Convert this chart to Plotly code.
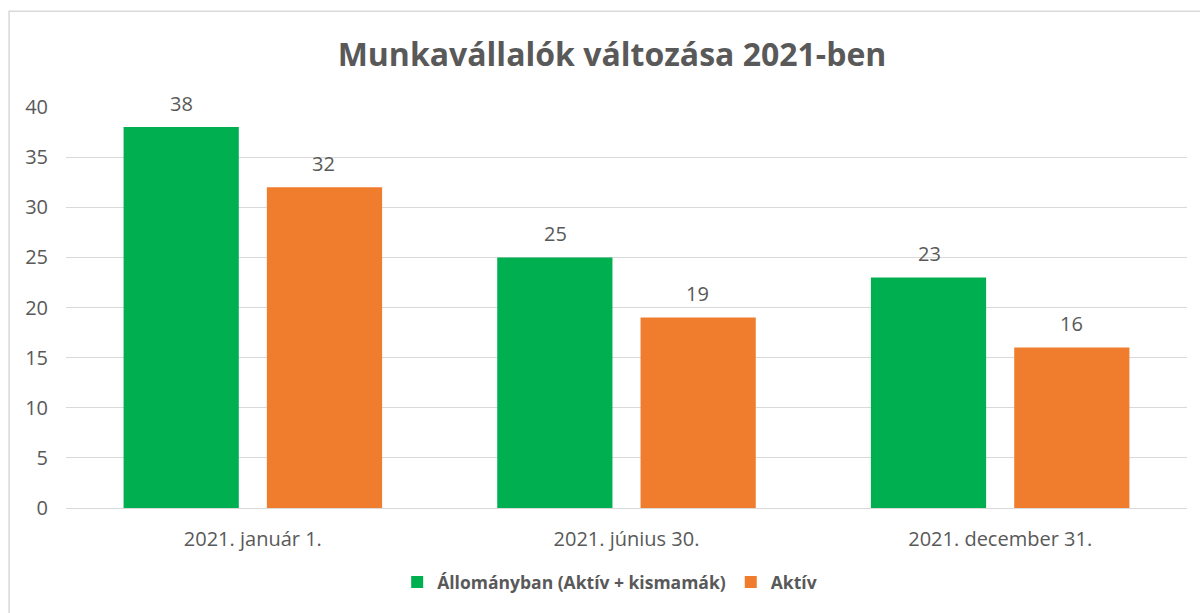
import plotly.graph_objects as go

categories = ["2021. január 1.", "2021. június 30.", "2021. december 31."]
series_names = ["Állományban (Aktív + kismamák)", "Aktív"]
allomanyban = [38, 25, 23]
aktiv = [32, 19, 16]
y_ticks = [0, 5, 10, 15, 20, 25, 30, 35, 40]

GREEN = "#00B050"
ORANGE = "#F07D2E"
GREY = "#595959"
FONT = "Open Sans"

fig = go.Figure()
fig.add_trace(go.Bar(x=categories, y=allomanyban, name=series_names[0],
                     marker=dict(color=GREEN, line=dict(width=0))))
fig.add_trace(go.Bar(x=categories, y=aktiv, name=series_names[1],
                     marker=dict(color=ORANGE, line=dict(width=0))))

ann = []
for vals, shift in ((allomanyban, -71), (aktiv, 71)):
    for c, v in zip(categories, vals):
        ann.append(dict(x=c, y=v, text=str(v), showarrow=False, xshift=shift,
                        yshift=24, yanchor="middle",
                        font=dict(family=FONT, size=20, color=GREY)))

fig.update_layout(
    width=1200, height=613,
    paper_bgcolor="white", plot_bgcolor="white",
    margin=dict(l=66, r=13, t=107, b=105),
    barmode="group", bargap=0.233, bargroupgap=0.196,
    title=dict(text="<b>Munkavállalók változása 2021-ben</b>", x=0.51, xanchor="center",
               y=1 - 55 / 613, yanchor="middle", yref="container",
               font=dict(family=FONT, size=32, color=GREY)),
    font=dict(family=FONT, size=20, color=GREY),
    legend=dict(orientation="h", x=0.485, xanchor="center", y=-0.185, yanchor="middle",
                font=dict(family=FONT, size=17.5, color=GREY, weight="bold"),
                itemwidth=30, traceorder="normal"),
    annotations=ann,
    shapes=[dict(type="rect", xref="paper", yref="paper",
                 x0=-0.0508, x1=1.05, y0=-0.5, y1=1.239,
                 line=dict(color="#D9D9D9", width=1.5), layer="below")],
    xaxis=dict(showgrid=False, showline=True, linecolor="#D9D9D9", linewidth=1,
               ticks="", ticklabelstandoff=13,
               tickfont=dict(family=FONT, size=20, color=GREY)),
    yaxis=dict(range=[0, 40], tickvals=y_ticks, showgrid=True, gridcolor="#D9D9D9",
               gridwidth=1, zeroline=False, showline=False, ticks="",
               ticklabelstandoff=17,
               tickfont=dict(family=FONT, size=20, color=GREY)),
)

fig.write_html("out.html")
